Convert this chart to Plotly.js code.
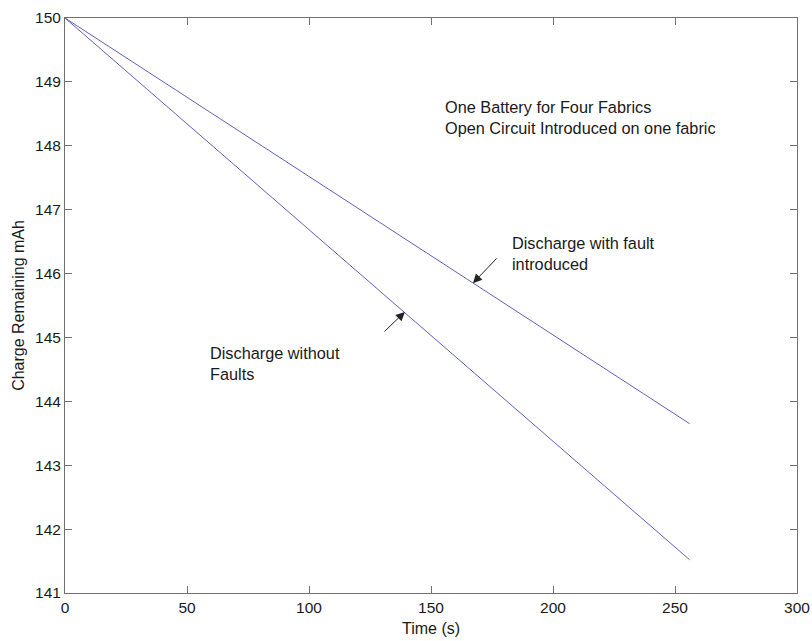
<!DOCTYPE html>
<html>
<head>
<meta charset="utf-8">
<script src="https://cdn.plot.ly/plotly-3.0.1.min.js"></script>
<style>html,body{margin:0;padding:0;background:#fff;}#chart{width:812px;height:641px;}</style>
</head>
<body>
<div id="chart"></div>
<script>
// Data
var timeS = [0, 256];
var chargeWithFault = [150, 143.65];
var chargeWithoutFault = [150, 141.52];

var xTicks = [0, 50, 100, 150, 200, 250, 300];
var yTicks = [141, 142, 143, 144, 145, 146, 147, 148, 149, 150];

var FONT = '"Liberation Sans", Arial, Helvetica, sans-serif';
var lineColor = '#6060bc';
var axisColor = '#707070';

var traces = [
  {x: timeS, y: chargeWithFault, mode: 'lines', line: {color: lineColor, width: 1}, hoverinfo: 'skip'},
  {x: timeS, y: chargeWithoutFault, mode: 'lines', line: {color: lineColor, width: 1}, hoverinfo: 'skip'}
];

var textFont = {family: FONT, size: 16.3, color: '#1a1a1a'};

var layout = {
  width: 812, height: 641,
  margin: {l: 65, r: 15, t: 18, b: 48, pad: 0},
  paper_bgcolor: '#ffffff', plot_bgcolor: '#ffffff',
  showlegend: false,
  font: {family: FONT, size: 15.5, color: '#1a1a1a'},
  xaxis: {
    range: [0, 300], tickvals: xTicks, ticktext: xTicks.map(String),
    ticks: 'inside', ticklen: 7, tickcolor: axisColor, tickwidth: 1,
    showline: true, linecolor: axisColor, linewidth: 1, mirror: 'ticks',
    showgrid: false, zeroline: false, fixedrange: true,
    tickfont: {family: FONT, size: 15.5, color: '#1a1a1a'},
    title: {text: 'Time (s)', font: {family: FONT, size: 16, color: '#1a1a1a'}, standoff: 8}
  },
  yaxis: {
    range: [141, 150], tickvals: yTicks, ticktext: yTicks.map(String),
    ticks: 'inside', ticklen: 7, tickcolor: axisColor, tickwidth: 1,
    showline: true, linecolor: axisColor, linewidth: 1, mirror: 'ticks',
    showgrid: false, zeroline: false, fixedrange: true,
    tickfont: {family: FONT, size: 15.5, color: '#1a1a1a'},
    title: {text: 'Charge Remaining mAh', font: {family: FONT, size: 16, color: '#1a1a1a'}, standoff: 6}
  },
  annotations: [
    {x: 154.9, y: 148.44, xref: 'x', yref: 'y', xanchor: 'left', yanchor: 'middle', align: 'left',
     text: 'One Battery for Four Fabrics<br>Open Circuit Introduced on one fabric', showarrow: false, font: textFont},
    {x: 182.4, y: 146.32, xref: 'x', yref: 'y', xanchor: 'left', yanchor: 'middle', align: 'left',
     text: 'Discharge with fault<br>introduced', showarrow: false, font: textFont},
    {x: 58.6, y: 144.59, xref: 'x', yref: 'y', xanchor: 'left', yanchor: 'middle', align: 'left',
     text: 'Discharge without<br>Faults', showarrow: false, font: textFont},
    {x: 167.2, y: 145.85, xref: 'x', yref: 'y', axref: 'x', ayref: 'y', ax: 177.5, ay: 146.26,
     text: '', showarrow: true, arrowhead: 2, arrowsize: 1.8, arrowwidth: 1, arrowcolor: '#222'},
    {x: 139.3, y: 145.40, xref: 'x', yref: 'y', axref: 'x', ayref: 'y', ax: 130.3, ay: 145.07,
     text: '', showarrow: true, arrowhead: 2, arrowsize: 1.8, arrowwidth: 1, arrowcolor: '#222'}
  ]
};

Plotly.newPlot('chart', traces, layout, {staticPlot: true, displayModeBar: false});
</script>
</body>
</html>
